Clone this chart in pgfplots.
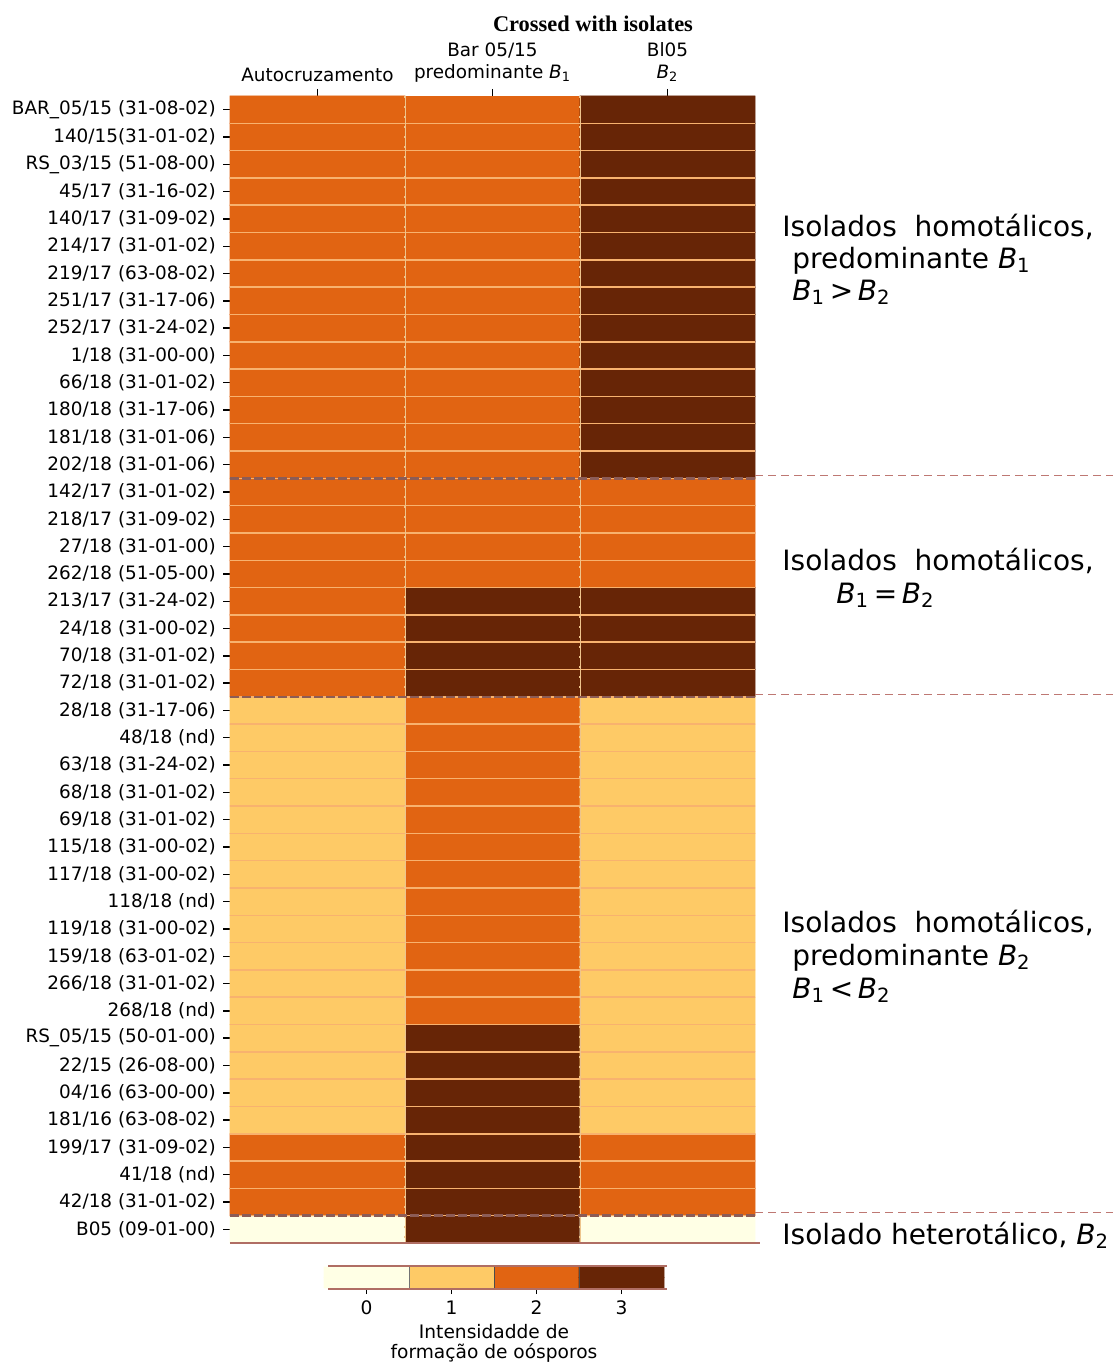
\documentclass[border=0pt]{standalone}
\usepackage{fontspec}
\setmainfont{DejaVu Sans}
\newfontfamily\timesfont{Liberation Serif}
\usepackage{pgfplots}
\pgfplotsset{compat=1.18}
\definecolor{rowline}{RGB}{248,178,110}
\definecolor{coldot}{RGB}{238,196,140}
\definecolor{sepdash}{RGB}{140,92,86}
\definecolor{extdash}{RGB}{190,120,115}
\definecolor{edgeline}{RGB}{176,110,100}
\newcommand{\Bs}[1]{\textit{B}\textsubscript{#1}}
\pgfplotsset{
  yob/.style={colormap={yob}{rgb255=(255,255,229) rgb255=(254,202,102) rgb255=(225,100,18) rgb255=(103,37,6)}}
}
\begin{document}
\begin{tikzpicture}
\useasboundingbox (0,0) rectangle (556.5pt,-682pt);
\begin{axis}[
  at={(115pt,-48pt)}, anchor=north west,
  scale only axis, width=262.5pt, height=573.5pt,
  xmin=-0.5, xmax=2.5, ymin=-0.5, ymax=41.5,
  enlargelimits=false, clip=false,
  axis line style={draw=none},
  yob,
  xtick={0,1,2},
  xticklabels={Autocruzamento,{Bar 05/15\\predominante \Bs{1}},{Bl05\\\Bs{2}}},
  xtick pos=right, xticklabel pos=right,
  ytick={0,...,41},
  yticklabels={B05 (09-01-00), 42/18 (31-01-02), 41/18 (nd), 199/17 (31-09-02), 181/16 (63-08-02), 04/16 (63-00-00), 22/15 (26-08-00), RS\_05/15 (50-01-00), 268/18 (nd), 266/18 (31-01-02), 159/18 (63-01-02), 119/18 (31-00-02), 118/18 (nd), 117/18 (31-00-02), 115/18 (31-00-02), 69/18 (31-01-02), 68/18 (31-01-02), 63/18 (31-24-02), 48/18 (nd), 28/18 (31-17-06), 72/18 (31-01-02), 70/18 (31-01-02), 24/18 (31-00-02), 213/17 (31-24-02), 262/18 (51-05-00), 27/18 (31-01-00), 218/17 (31-09-02), 142/17 (31-01-02), 202/18 (31-01-06), 181/18 (31-01-06), 180/18 (31-17-06), 66/18 (31-01-02), 1/18 (31-00-00), 252/17 (31-24-02), 251/17 (31-17-06), 219/17 (63-08-02), 214/17 (31-01-02), 140/17 (31-09-02), 45/17 (31-16-02), RS\_03/15 (51-08-00), 140/15(31-01-02), BAR\_05/15 (31-08-02)},
  ytick pos=left,
  tick align=outside, major tick length=3.5pt,
  major tick style={black, line width=0.7pt},
  tick label style={font=\fontsize{9.2}{11}\selectfont},
  xticklabel style={align=center},
]
\addplot[matrix plot*, mesh/cols=3, point meta=explicit, colormap access=direct]
table[x=x, y=y, meta=c]{
x y c
0 0 0
1 0 3
2 0 0
0 1 2
1 1 3
2 1 2
0 2 2
1 2 3
2 2 2
0 3 2
1 3 3
2 3 2
0 4 1
1 4 3
2 4 1
0 5 1
1 5 3
2 5 1
0 6 1
1 6 3
2 6 1
0 7 1
1 7 3
2 7 1
0 8 1
1 8 2
2 8 1
0 9 1
1 9 2
2 9 1
0 10 1
1 10 2
2 10 1
0 11 1
1 11 2
2 11 1
0 12 1
1 12 2
2 12 1
0 13 1
1 13 2
2 13 1
0 14 1
1 14 2
2 14 1
0 15 1
1 15 2
2 15 1
0 16 1
1 16 2
2 16 1
0 17 1
1 17 2
2 17 1
0 18 1
1 18 2
2 18 1
0 19 1
1 19 2
2 19 1
0 20 2
1 20 3
2 20 3
0 21 2
1 21 3
2 21 3
0 22 2
1 22 3
2 22 3
0 23 2
1 23 3
2 23 3
0 24 2
1 24 2
2 24 2
0 25 2
1 25 2
2 25 2
0 26 2
1 26 2
2 26 2
0 27 2
1 27 2
2 27 2
0 28 2
1 28 2
2 28 3
0 29 2
1 29 2
2 29 3
0 30 2
1 30 2
2 30 3
0 31 2
1 31 2
2 31 3
0 32 2
1 32 2
2 32 3
0 33 2
1 33 2
2 33 3
0 34 2
1 34 2
2 34 3
0 35 2
1 35 2
2 35 3
0 36 2
1 36 2
2 36 3
0 37 2
1 37 2
2 37 3
0 38 2
1 38 2
2 38 3
0 39 2
1 39 2
2 39 3
0 40 2
1 40 2
2 40 3
0 41 2
1 41 2
2 41 3
};
\pgfplotsinvokeforeach{0,...,40}{
  \draw[rowline, line width=0.75pt] (axis cs:-0.5,#1.5) -- (axis cs:2.5,#1.5);
}
\draw[coldot, line width=0.4pt] (axis cs:0.5,-0.5) -- (axis cs:0.5,41.5);
\draw[coldot, line width=0.4pt] (axis cs:1.5,-0.5) -- (axis cs:1.5,41.5);
\draw[coldot, line width=1.4pt, dash pattern=on 1.2pt off 3.8pt] (axis cs:0.5,41.5) -- (axis cs:0.5,-0.5);
\draw[coldot, line width=1.4pt, dash pattern=on 1.2pt off 3.8pt] (axis cs:1.5,41.5) -- (axis cs:1.5,-0.5);
\draw[sepdash, line width=1.3pt, dash pattern=on 4.5pt off 1.5pt] (axis cs:-0.5,27.5) -- (axis cs:2.5,27.5);
\draw[sepdash, line width=1.3pt, dash pattern=on 4.5pt off 1.5pt] (axis cs:-0.5,19.5) -- (axis cs:2.5,19.5);
\draw[sepdash, line width=1.3pt, dash pattern=on 4.5pt off 1.5pt] (axis cs:-0.5,0.5) -- (axis cs:2.5,0.5);
\draw[extdash, line width=0.5pt, dash pattern=on 4pt off 2.5pt] (axis cs:2.5,27.6) -- (axis cs:4.546,27.6);
\draw[extdash, line width=0.5pt, dash pattern=on 4pt off 2.5pt] (axis cs:2.5,19.6) -- (axis cs:4.546,19.6);
\draw[extdash, line width=0.5pt, dash pattern=on 4pt off 2.5pt] (axis cs:2.5,0.6) -- (axis cs:4.546,0.6);
\draw[edgeline, line width=0.7pt] (axis cs:-0.5,-0.5) -- (axis cs:2.53,-0.5);
\end{axis}

\begin{axis}[
  at={(162pt,-633.5pt)}, anchor=north west,
  scale only axis, width=170pt, height=10.5pt,
  xmin=-0.5, xmax=3.5, ymin=-0.5, ymax=0.5,
  enlargelimits=false, clip=false,
  axis line style={draw=none},
  yob,
  xtick={0,1,2,3}, xticklabels={0,1,2,3}, xtick pos=left,
  ytick=\empty,
  tick align=outside, major tick length=3pt,
  major tick style={black, line width=0.7pt},
  tick label style={font=\fontsize{9.3}{11}\selectfont},
  xlabel={Intensidadde de\\formação de oósporos},
  xlabel style={align=center, font=\fontsize{9.3}{10.4}\selectfont, yshift=2.5pt},
]
\addplot[matrix plot*, mesh/cols=4, point meta=explicit, colormap access=direct]
table[x=x, y=y, meta=c]{
x y c
0 -0.25 0
1 -0.25 1
2 -0.25 2
3 -0.25 3
0 0.25 0
1 0.25 1
2 0.25 2
3 0.25 3
};
\draw[black!55, line width=0.4pt] (axis cs:0.5,-0.5) -- (axis cs:0.5,0.5);
\draw[black!70, line width=0.4pt] (axis cs:1.5,-0.5) -- (axis cs:1.5,0.5);
\draw[black!70, line width=0.4pt] (axis cs:2.5,-0.5) -- (axis cs:2.5,0.5);
\draw[edgeline, line width=0.7pt] (axis cs:-0.45,0.55) -- (axis cs:3.53,0.55);
\draw[edgeline, line width=0.7pt] (axis cs:-0.45,-0.55) -- (axis cs:3.53,-0.55);
\end{axis}

\node[anchor=base, font=\timesfont\bfseries\fontsize{11.2}{13}\selectfont] at (296.5pt,-16pt) {Crossed with isolates};

\begin{scope}[every node/.style={anchor=base west, inner sep=0pt, font=\fontsize{14}{16}\selectfont}]
\node at (391pt,-118pt) {Isolados\ \ homotálicos,};
\node at (396pt,-134pt) {predominante \Bs{1}};
\node at (396pt,-150pt) {\Bs{1}\,>\,\Bs{2}};
\node at (391pt,-285pt) {Isolados\ \ homotálicos,};
\node at (418pt,-301.5pt) {\Bs{1}\,=\,\Bs{2}};
\node at (391pt,-466pt) {Isolados\ \ homotálicos,};
\node at (396pt,-482.5pt) {predominante \Bs{2}};
\node at (396pt,-499pt) {\Bs{1}\,<\,\Bs{2}};
\node at (391pt,-622pt) {Isolado heterotálico, \Bs{2}};
\end{scope}
\end{tikzpicture}
\end{document}
